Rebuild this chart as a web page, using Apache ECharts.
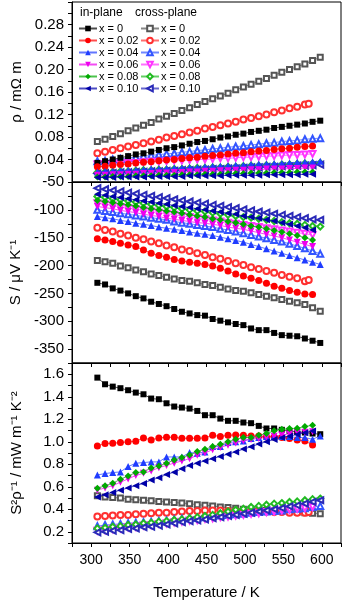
<!DOCTYPE html>
<html>
<head>
<meta charset="utf-8">
<script src="https://cdn.jsdelivr.net/npm/echarts@6/dist/echarts.min.js"></script>
<style>
html, body { margin: 0; padding: 0; background: #fff; }
#chart { width: 345px; height: 604px; }
</style>
</head>
<body>
<div id="chart"></div>
<script>
// temperatures (K) of the measured points
var temps = [308, 318, 328, 338, 348, 358, 368, 378, 388, 398, 408, 418, 428, 438, 448,
             458, 468, 478, 488, 498, 508, 518, 528, 538, 548, 558, 568, 578, 588, 598];

var legendLabels = ['x = 0', 'x = 0.02', 'x = 0.04', 'x = 0.06', 'x = 0.08', 'x = 0.10'];

// resistivity, mOhm m
var rhoIn0  = [0.034,0.037,0.040,0.043,0.046,0.049,0.051,0.054,0.057,0.060,0.062,0.065,0.068,0.071,0.073,0.076,0.079,0.081,0.084,0.086,0.089,0.091,0.093,0.096,0.098,0.100,0.102,0.104,0.107,0.109];
var rhoIn2  = [0.027,0.028,0.030,0.031,0.032,0.034,0.035,0.036,0.038,0.039,0.040,0.042,0.043,0.044,0.046,0.047,0.048,0.050,0.051,0.052,0.054,0.055,0.056,0.058,0.059,0.060,0.062,0.063,0.064];
var rhoIn4  = [0.018,0.019,0.019,0.020,0.021,0.021,0.022,0.023,0.023,0.024,0.025,0.025,0.026,0.026,0.027,0.028,0.028,0.029,0.030,0.030,0.031,0.032,0.032,0.033,0.033,0.034,0.035,0.035,0.036,0.037];
var rhoIn6  = [0.012,0.012,0.013,0.013,0.014,0.014,0.015,0.015,0.016,0.016,0.017,0.017,0.018,0.018,0.019,0.019,0.020,0.020,0.021,0.021,0.022,0.022,0.023,0.023,0.023,0.024,0.024,0.025,0.025];
var rhoIn8  = [0.009,0.009,0.010,0.010,0.010,0.011,0.011,0.011,0.012,0.012,0.012,0.013,0.013,0.013,0.014,0.014,0.014,0.015,0.015,0.015,0.016,0.016,0.016,0.017,0.017,0.017,0.018,0.018,0.018];
var rhoIn10 = [0.008,0.008,0.008,0.009,0.009,0.009,0.009,0.010,0.010,0.010,0.010,0.010,0.011,0.011,0.011,0.011,0.011,0.012,0.012,0.012,0.012,0.012,0.013,0.013,0.013,0.013,0.013,0.014,0.014];
var rhoCr0  = [0.072,0.076,0.081,0.086,0.091,0.096,0.101,0.106,0.112,0.117,0.122,0.127,0.132,0.138,0.143,0.148,0.153,0.158,0.164,0.169,0.174,0.179,0.184,0.190,0.195,0.200,0.205,0.210,0.216,0.222];
var rhoCr2  = [0.051,0.054,0.057,0.060,0.063,0.066,0.069,0.072,0.075,0.079,0.082,0.085,0.088,0.091,0.095,0.098,0.101,0.104,0.107,0.111,0.114,0.117,0.120,0.124,0.127,0.131,0.134,0.138];
var rhoCr4  = [0.037,0.038,0.040,0.041,0.043,0.044,0.046,0.047,0.049,0.050,0.051,0.053,0.054,0.056,0.057,0.059,0.060,0.062,0.063,0.064,0.066,0.067,0.069,0.070,0.072,0.073,0.074,0.076,0.077,0.078];
var rhoCr6  = [0.031,0.032,0.032,0.033,0.034,0.034,0.035,0.036,0.036,0.037,0.038,0.038,0.039,0.040,0.040,0.041,0.042,0.042,0.043,0.044,0.044,0.045,0.046,0.046,0.047,0.048,0.048,0.049,0.050];
var rhoCr8  = [0.017,0.018,0.018,0.019,0.019,0.020,0.021,0.021,0.022,0.022,0.023,0.023,0.024,0.025,0.025,0.026,0.026,0.027,0.027,0.028,0.029,0.029,0.030,0.030,0.031,0.031,0.032,0.033,0.033,0.034];
var rhoCr10 = [0.015,0.016,0.016,0.017,0.017,0.018,0.018,0.019,0.019,0.020,0.020,0.021,0.021,0.022,0.022,0.023,0.023,0.024,0.024,0.025,0.026,0.026,0.027,0.027,0.028,0.028,0.029,0.029,0.030,0.031];

// Seebeck, uV/K
var sIn0  = [-231,-234,-241,-245,-250,-255,-259,-265,-269,-273,-278,-283,-286,-289,-290,-296,-299,-302,-305,-307,-313,-316,-316,-321,-325,-326,-327,-331,-335,-339];
var sIn2  = [-152,-154,-157,-160,-163,-166,-172,-178,-182,-185,-189,-192,-194,-196,-198,-201,-205,-210,-215,-219,-223,-227,-232,-237,-241,-245,-248,-251,-252];
var sIn4  = [-112,-114,-116,-119,-121,-124,-126,-128,-131,-133,-135,-137,-140,-142,-144,-146,-149,-152,-155,-158,-162,-166,-170,-174,-178,-182,-186,-190,-194,-198];
var sIn6  = [-94,-96,-98,-101,-103,-105,-108,-110,-112,-115,-117,-119,-121,-123,-124,-126,-128,-131,-133,-135,-138,-141,-144,-147,-150,-154,-158,-162,-166];
var sIn8  = [-83,-85,-87,-89,-91,-93,-96,-98,-100,-102,-104,-106,-109,-111,-113,-116,-118,-121,-123,-126,-129,-131,-134,-137,-140,-143,-146,-150,-154];
var sIn10 = [-72,-74,-76,-78,-80,-82,-84,-86,-88,-90,-92,-94,-96,-98,-100,-102,-104,-106,-108,-111,-113,-115,-118,-120,-123,-126,-129,-132,-136];
var sCr0  = [-191,-193,-196,-201,-204,-208,-211,-215,-218,-221,-224,-227,-228,-231,-234,-236,-239,-242,-245,-246,-249,-252,-255,-258,-261,-264,-267,-270,-276,-282];
var sCr2  = [-132,-136,-139,-143,-146,-150,-153,-157,-160,-164,-167,-171,-174,-178,-181,-185,-188,-192,-196,-199,-203,-206,-210,-213,-217,-220,-223,-228];
var sCr4  = [-100,-102,-104,-106,-108,-110,-112,-114,-116,-118,-121,-123,-125,-127,-129,-131,-134,-136,-139,-142,-145,-148,-151,-154,-157,-161,-165,-169,-174,-179];
var sCr6  = [-88,-90,-92,-95,-97,-99,-101,-103,-105,-107,-109,-111,-113,-115,-117,-119,-121,-123,-125,-127,-129,-131,-133,-135,-137,-139,-141,-143,-145];
var sCr8  = [-76,-78,-80,-82,-84,-86,-88,-90,-92,-94,-96,-98,-100,-102,-103,-105,-107,-109,-111,-113,-114,-116,-118,-120,-122,-124,-125,-127,-129,-130];
var sCr10 = [-61,-63,-65,-67,-69,-71,-73,-75,-77,-79,-81,-83,-85,-87,-89,-91,-93,-95,-97,-99,-101,-103,-105,-107,-109,-111,-113,-115,-117,-118];

// power factor S^2/rho, mW m^-1 K^-2
var pfIn0  = [1.570,1.511,1.490,1.476,1.458,1.437,1.422,1.384,1.378,1.342,1.313,1.304,1.295,1.274,1.236,1.236,1.206,1.186,1.186,1.171,1.165,1.141,1.118,1.118,1.106,1.097,1.088,1.082,1.073,1.067];
var pfIn2  = [0.963,0.984,0.987,0.993,0.999,1.004,1.034,1.016,1.034,1.040,1.040,1.031,1.031,1.031,1.034,1.058,1.046,1.058,1.061,1.058,1.052,1.052,1.043,1.043,1.037,1.028,1.016,1.007,0.972];
var pfIn4  = [0.705,0.717,0.726,0.732,0.779,0.809,0.815,0.821,0.821,0.865,0.865,0.865,0.904,0.898,0.910,0.957,0.957,0.993,0.999,1.007,1.028,1.037,1.046,1.052,1.046,1.046,1.037,1.037,1.022,1.052];
var pfIn6  = [0.570,0.590,0.610,0.640,0.670,0.700,0.720,0.740,0.770,0.790,0.810,0.830,0.850,0.880,0.900,0.930,0.950,0.970,0.990,1.010,1.020,1.030,1.040,1.050,1.060,1.070,1.080,1.085,1.090];
var pfIn8  = [0.587,0.608,0.631,0.667,0.696,0.726,0.732,0.767,0.785,0.809,0.838,0.859,0.883,0.913,0.933,0.957,0.978,0.999,1.022,1.037,1.037,1.058,1.073,1.097,1.111,1.117,1.120,1.135,1.147];
var pfIn10 = [0.510,0.530,0.550,0.570,0.590,0.610,0.630,0.660,0.680,0.710,0.730,0.760,0.790,0.810,0.830,0.850,0.870,0.890,0.910,0.935,0.955,0.980,1.000,1.020,1.035,1.050,1.065,1.080,1.095];
var pfCr0  = [0.520,0.510,0.505,0.500,0.490,0.485,0.480,0.475,0.470,0.465,0.460,0.455,0.450,0.440,0.435,0.430,0.420,0.415,0.410,0.400,0.400,0.395,0.390,0.385,0.380,0.380,0.375,0.370,0.365,0.360];
var pfCr2  = [0.335,0.340,0.345,0.350,0.350,0.355,0.360,0.365,0.370,0.370,0.375,0.380,0.385,0.385,0.390,0.390,0.390,0.385,0.385,0.380,0.380,0.385,0.380,0.375,0.375,0.370,0.370,0.370];
var pfCr4  = [0.250,0.260,0.265,0.270,0.275,0.280,0.285,0.290,0.295,0.300,0.310,0.315,0.320,0.325,0.330,0.340,0.345,0.350,0.355,0.360,0.370,0.375,0.380,0.385,0.390,0.400,0.405,0.410,0.420,0.430];
var pfCr6  = [0.210,0.215,0.225,0.230,0.240,0.245,0.255,0.260,0.270,0.275,0.285,0.290,0.300,0.305,0.315,0.320,0.330,0.335,0.345,0.350,0.360,0.365,0.375,0.380,0.390,0.395,0.405,0.410,0.420];
var pfCr8  = [0.230,0.235,0.245,0.250,0.260,0.265,0.275,0.280,0.290,0.295,0.305,0.310,0.320,0.330,0.340,0.350,0.365,0.380,0.395,0.405,0.420,0.430,0.440,0.450,0.455,0.465,0.470,0.480,0.490,0.495];
var pfCr10 = [0.195,0.200,0.210,0.215,0.225,0.230,0.240,0.245,0.255,0.265,0.275,0.285,0.295,0.300,0.310,0.320,0.330,0.340,0.350,0.360,0.370,0.380,0.390,0.400,0.410,0.425,0.435,0.450,0.465,0.480];

// last (extra) points of the cross-plane x = 0.02 sample
var crTwoLastT = 583;
var rhoCr2Last = 0.139;
var sCr2Last = -226;
var pfCr2Last = 0.375;

var font = 'Liberation Sans, Arial, sans-serif';

var inColors = ['#000000', '#ff0000', '#1f3cff', '#ee00ee', '#00aa00', '#0000a8'];
var crColors = ['#555555', '#ff3030', '#3355ff', '#ff33ff', '#22bb22', '#2a2ab8'];
var inSymbols = ['rect', 'circle', 'triangle', 'triangle', 'diamond', 'triangle'];
var crSymbols = ['emptyRect', 'emptyCircle', 'emptyTriangle', 'emptyTriangle', 'emptyDiamond', 'emptyTriangle'];
var rotations = [0, 0, 0, 180, 0, 90];
var sizes = [6, 7, 7, 7, 7, 7];

var inNames = ['in0', 'in2', 'in4', 'in6', 'in8', 'in10'];
var crNames = ['cr0', 'cr2', 'cr4', 'cr6', 'cr8', 'cr10'];

function pts(vals, extraT, extraV) {
    var out = vals.map(function (v, i) { return [temps[i], v]; });
    if (extraT) out.push([extraT, extraV]);
    return out;
}

function mkSeries(name, idx, cross, gridIdx, data) {
    var c = cross ? crColors[idx] : inColors[idx];
    return {
        name: name,
        type: 'line',
        xAxisIndex: gridIdx,
        yAxisIndex: gridIdx,
        data: data,
        symbol: cross ? crSymbols[idx] : inSymbols[idx],
        symbolSize: cross ? sizes[idx] - 1 : sizes[idx],
        symbolRotate: rotations[idx],
        showAllSymbol: true,
        color: c,
        lineStyle: { width: 1, color: c, opacity: 0.7 },
        itemStyle: { color: c, borderColor: c, borderWidth: cross ? 1 : 0 },
        emphasis: { disabled: true },
        z: cross ? 2 : 3
    };
}

var panels = [
    { ins: [rhoIn0, rhoIn2, rhoIn4, rhoIn6, rhoIn8, rhoIn10], crs: [rhoCr0, rhoCr2, rhoCr4, rhoCr6, rhoCr8, rhoCr10], last: rhoCr2Last },
    { ins: [sIn0, sIn2, sIn4, sIn6, sIn8, sIn10], crs: [sCr0, sCr2, sCr4, sCr6, sCr8, sCr10], last: sCr2Last },
    { ins: [pfIn0, pfIn2, pfIn4, pfIn6, pfIn8, pfIn10], crs: [pfCr0, pfCr2, pfCr4, pfCr6, pfCr8, pfCr10], last: pfCr2Last }
];

var series = [];
panels.forEach(function (p, g) {
    p.crs.forEach(function (vals, i) {
        series.push(mkSeries(crNames[i], i, true, g, i === 1 ? pts(vals, crTwoLastT, p.last) : pts(vals)));
    });
    p.ins.forEach(function (vals, i) {
        series.push(mkSeries(inNames[i], i, false, g, pts(vals)));
    });
});

var labelOf = {};
inNames.forEach(function (n, i) { labelOf[n] = legendLabels[i]; });
crNames.forEach(function (n, i) { labelOf[n] = legendLabels[i]; });

var tempLabels = [300, 350, 400, 450, 500, 550, 600];
var rhoLabels = [0.04, 0.08, 0.12, 0.16, 0.20, 0.24, 0.28];
var sLabels = [-350, -300, -250, -200, -150, -100, -50];
var pfLabels = [0.2, 0.4, 0.6, 0.8, 1.0, 1.2, 1.4, 1.6];

function xAxis(g, showLabels) {
    return {
        type: 'value', gridIndex: g, min: 275, max: 625, interval: 25,
        axisLine: { show: true, lineStyle: { color: '#000', width: 1 } },
        axisTick: { show: true, inside: false, length: 4, lineStyle: { color: '#000' } },
        axisLabel: {
            show: showLabels, customValues: tempLabels, margin: 10,
            fontSize: 14, color: '#000', fontFamily: font
        },
        splitLine: { show: false },
        name: showLabels ? 'Temperature / K' : '',
        nameLocation: 'middle', nameGap: 42,
        nameTextStyle: { fontSize: 15, color: '#000', fontFamily: font }
    };
}

function yAxis(g, min, max, interval, labels, digits, name) {
    return {
        type: 'value', gridIndex: g, min: min, max: max, interval: interval,
        axisLine: { show: true, lineStyle: { color: '#000', width: 1 } },
        axisTick: { show: true, inside: false, length: 4, lineStyle: { color: '#000' } },
        axisLabel: {
            customValues: labels, margin: 8, fontSize: 15, color: '#000', fontFamily: font,
            formatter: function (v) { return v.toFixed(digits); }
        },
        splitLine: { show: false },
        name: name, nameLocation: 'middle', nameGap: 48,
        nameTextStyle: { fontSize: 15, color: '#000', fontFamily: font }
    };
}

var gridBase = { left: 72, right: 4, show: true, borderColor: '#000', borderWidth: 1, backgroundColor: 'transparent' };

var legendCommon = {
    orient: 'vertical', top: 23, itemWidth: 18, itemHeight: 7, itemGap: 1, padding: 0,
    textStyle: { fontSize: 11, color: '#000', fontFamily: font, padding: [0, 0, 0, -3] },
    formatter: function (n) { return labelOf[n]; },
    selectedMode: false
};

var myChart = echarts.init(document.getElementById('chart'));
var option = {
    animation: false,
    backgroundColor: '#fff',
    grid: [
        Object.assign({ top: 2, height: 180 }, gridBase),
        Object.assign({ top: 182, height: 181 }, gridBase),
        Object.assign({ top: 363, height: 180 }, gridBase)
    ],
    xAxis: [xAxis(0, false), xAxis(1, false), xAxis(2, true)],
    yAxis: [
        yAxis(0, 0, 0.32, 0.02, rhoLabels, 2, 'ρ / mΩ m'),
        yAxis(1, -375, -50, 25, sLabels, 0, 'S / μV K⁻¹'),
        yAxis(2, 0.1, 1.7, 0.1, pfLabels, 1, 'S²ρ⁻¹ / mW m⁻¹ K⁻²')
    ],
    legend: [
        Object.assign({ left: 78, data: inNames }, legendCommon),
        Object.assign({ left: 140, data: crNames }, legendCommon)
    ],
    graphic: [
        { type: 'text', left: 80, top: 7, style: { text: 'in-plane', fontSize: 12, fill: '#000', fontFamily: font } },
        { type: 'text', left: 135, top: 7, style: { text: 'cross-plane', fontSize: 12, fill: '#000', fontFamily: font } }
    ],
    series: series
};
myChart.setOption(option);
</script>
</body>
</html>
